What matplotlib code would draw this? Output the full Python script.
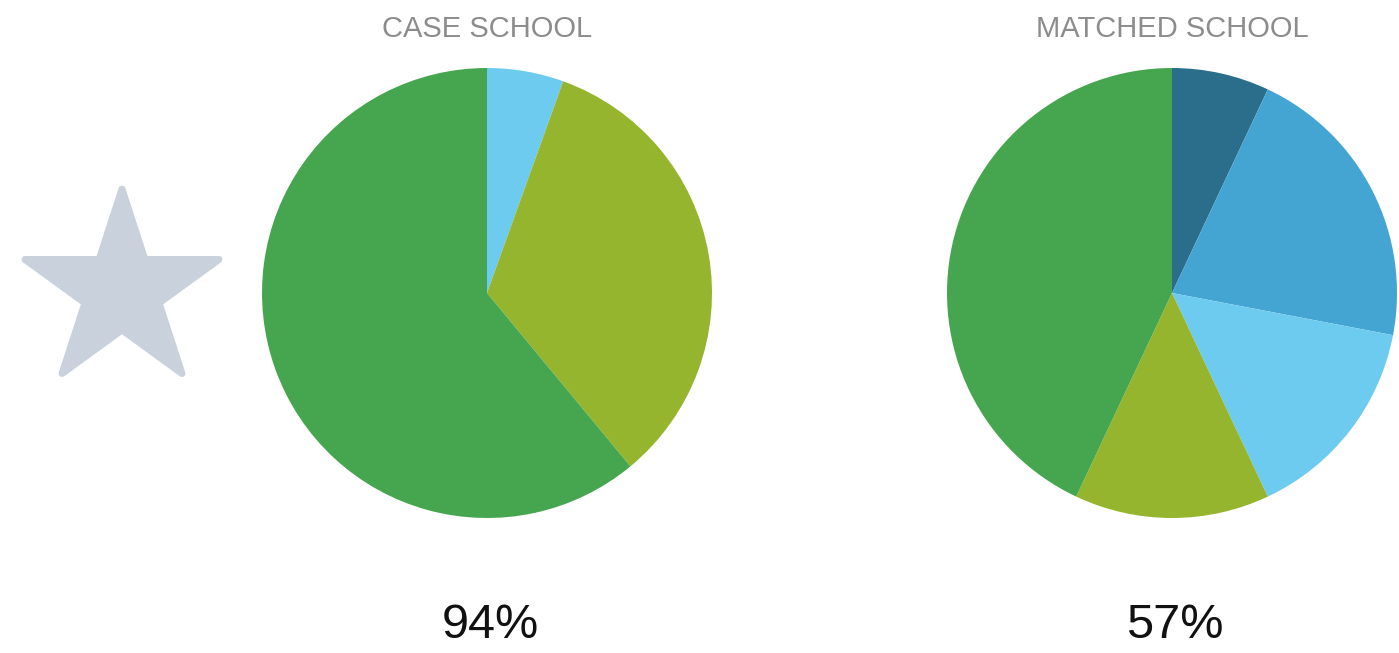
import numpy as np
from matplotlib import pyplot as plt
from matplotlib.patches import Polygon

# slices go clockwise from 12 o'clock
case_labels = ["Light blue", "Yellow-green", "Green"]
case_values = [5.5, 33.5, 61]
case_colors = ["#6ecbf0", "#94b52d", "#46a64f"]

matched_labels = ["Dark teal", "Blue", "Light blue", "Yellow-green", "Green"]
matched_values = [7, 21, 15, 14, 43]
matched_colors = ["#2a6e8c", "#44a4d2", "#6ecbf0", "#94b52d", "#46a64f"]

titles = ["CASE SCHOOL", "MATCHED SCHOOL"]
totals = ["94%", "57%"]

W, H = 1399, 653
fig = plt.figure(figsize=(W / 100, H / 100), dpi=100)
plt.rcParams["font.family"] = ["Liberation Sans", "DejaVu Sans"]

# overlay in pixel units for the star and the text
pix = fig.add_axes([0, 0, 1, 1])
pix.set_xlim(0, W)
pix.set_ylim(0, H)
pix.axis("off")

radius = 225
centers = [(487, 293), (1172, 293)]
data = [(case_values, case_colors), (matched_values, matched_colors)]

for (cx, cy), (values, colors), title, total in zip(centers, data, titles, totals):
    ax = fig.add_axes([(cx - radius) / W, (H - cy - radius) / H, 2 * radius / W, 2 * radius / H])
    ax.pie(values, colors=colors, startangle=90, counterclock=False, radius=1,
           wedgeprops=dict(linewidth=0))
    ax.set_xlim(-1, 1)
    ax.set_ylim(-1, 1)
    ax.set_aspect("equal")
    ax.axis("off")

    pix.text(cx, H - 29, title, ha="center", va="center", fontsize=21, color="#8c8c8c")
    pix.text(cx + 3, H - 626, total, ha="center", va="center", fontsize=35, color="#111111")

# star on the left
sx, sy, R = 122, H - 291, 102
angles = np.pi / 2 + np.arange(10) * np.pi / 5
radii = np.where(np.arange(10) % 2 == 0, R, R * 0.382)
pts = np.column_stack([sx + radii * np.cos(angles), sy + radii * np.sin(angles)])
pix.add_patch(Polygon(pts, closed=True, fc="#c8d1dc", ec="#c8d1dc", lw=5, joinstyle="round"))
pix.set_zorder(0)

fig.savefig("out.png", dpi=100, facecolor="white")
